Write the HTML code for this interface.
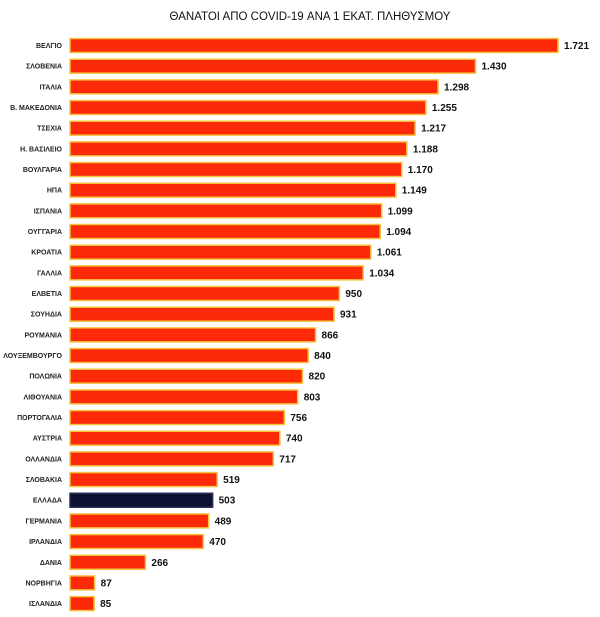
<!DOCTYPE html>
<html><head><meta charset="utf-8"><style>
body{margin:0;background:#fff;}
svg{display:block;font-family:"Liberation Sans",sans-serif;}
</style></head><body>
<svg width="600" height="617" viewBox="0 0 600 617">
<text x="310" y="20" text-anchor="middle" font-size="11.5" fill="#111">ΘΑΝΑΤΟΙ ΑΠΟ COVID-19 ΑΝΑ 1 ΕΚΑΤ. ΠΛΗΘΥΣΜΟΥ</text>
<g id="g"></g>
</svg>
<script>
var d=[["ΒΕΛΓΙΟ",1721,"1.721"],["ΣΛΟΒΕΝΙΑ",1430,"1.430"],["ΙΤΑΛΙΑ",1298,"1.298"],["Β. ΜΑΚΕΔΟΝΙΑ",1255,"1.255"],["ΤΣΕΧΙΑ",1217,"1.217"],["Η. ΒΑΣΙΛΕΙΟ",1188,"1.188"],["ΒΟΥΛΓΑΡΙΑ",1170,"1.170"],["ΗΠΑ",1149,"1.149"],["ΙΣΠΑΝΙΑ",1099,"1.099"],["ΟΥΓΓΑΡΙΑ",1094,"1.094"],["ΚΡΟΑΤΙΑ",1061,"1.061"],["ΓΑΛΛΙΑ",1034,"1.034"],["ΕΛΒΕΤΙΑ",950,"950"],["ΣΟΥΗΔΙΑ",931,"931"],["ΡΟΥΜΑΝΙΑ",866,"866"],["ΛΟΥΞΕΜΒΟΥΡΓΟ",840,"840"],["ΠΟΛΩΝΙΑ",820,"820"],["ΛΙΘΟΥΑΝΙΑ",803,"803"],["ΠΟΡΤΟΓΑΛΙΑ",756,"756"],["ΑΥΣΤΡΙΑ",740,"740"],["ΟΛΛΑΝΔΙΑ",717,"717"],["ΣΛΟΒΑΚΙΑ",519,"519"],["ΕΛΛΑΔΑ",503,"503"],["ΓΕΡΜΑΝΙΑ",489,"489"],["ΙΡΛΑΝΔΙΑ",470,"470"],["ΔΑΝΙΑ",266,"266"],["ΝΟΡΒΗΓΙΑ",87,"87"],["ΙΣΛΑΝΔΙΑ",85,"85"]];
var s="",k=(558-70)/1721;
d.forEach(function(r,i){var c=45.5+i*20.67,w=r[1]*k,gr=r[0]=="ΕΛΛΑΔΑ";
s+='<rect x="70" y="'+(c-7)+'" width="'+w+'" height="14" fill="'+(gr?"#0d1030":"#fc2a08")+'" stroke="'+(gr?"#2a2f5a":"#f5c542")+'" stroke-width="1.5"/>';
s+='<text x="62" y="'+(c+2.5)+'" text-anchor="end" font-size="7" font-weight="bold" fill="#222">'+r[0]+'</text>';
s+='<text x="'+(70+w+6)+'" y="'+(c+3.5)+'" font-size="10" font-weight="bold" fill="#111">'+r[2]+'</text>';});
document.getElementById("g").innerHTML=s;
</script>
</body></html>
